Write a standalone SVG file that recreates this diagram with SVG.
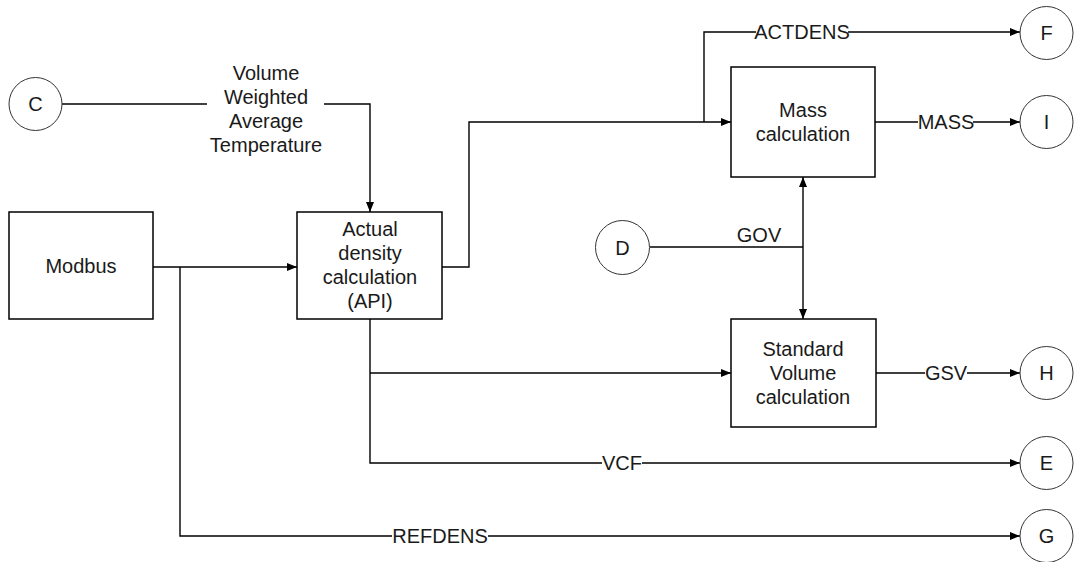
<svg xmlns="http://www.w3.org/2000/svg" width="1077" height="562" viewBox="0 0 1077 562">
<style>
text{font-family:"Liberation Sans",Arial,sans-serif;font-size:20px;fill:#1a1a1a;text-anchor:middle}
.box{fill:#fff;stroke:#000;stroke-width:1.5}
.circ{fill:#fff;stroke:#333;stroke-width:1}
.ln{fill:none;stroke:#000;stroke-width:1.4}
.arr{fill:none;stroke:#000;stroke-width:1.4;marker-end:url(#ah)}
</style>
<defs>
<marker id="ah" viewBox="0 0 10 8" refX="10" refY="4" markerWidth="10" markerHeight="8" markerUnits="userSpaceOnUse" orient="auto">
<path d="M0,0 L10,4 L0,8 Z" fill="#000"/>
</marker>
</defs>
<g id="connectors">
<path class="ln" d="M62,104 H207"/>
<path class="arr" d="M324,104 H370 V212"/>
<path class="arr" d="M153,267 H297"/>
<path class="ln" d="M180,267 V536 H392"/>
<path class="arr" d="M488,536 H1020"/>
<path class="ln" d="M370,319 V463 H602"/>
<path class="arr" d="M642,463 H1020"/>
<path class="arr" d="M370,373 H731"/>
<path class="arr" d="M442,267 H469 V122 H731"/>
<path class="ln" d="M704,122 V32 H756"/>
<path class="arr" d="M848,32 H1020"/>
<path class="ln" d="M875,122 H918"/>
<path class="arr" d="M973,122 H1020"/>
<path class="ln" d="M876,373 H925"/>
<path class="arr" d="M967,373 H1020"/>
<path class="ln" d="M650,247 H803"/>
<path class="arr" d="M803,247 V177"/>
<path class="arr" d="M803,247 V319"/>
<text x="266" y="80">Volume</text>
<text x="266" y="104">Weighted</text>
<text x="266" y="128">Average</text>
<text x="266" y="152">Temperature</text>
<text x="802" y="39">ACTDENS</text>
<text x="946" y="129">MASS</text>
<text x="946" y="380">GSV</text>
<text x="622" y="470">VCF</text>
<text x="440" y="543">REFDENS</text>
<text x="759" y="242">GOV</text>
</g>
<g id="modbus"><rect class="box" x="9" y="212" width="144" height="107"/><text x="81" y="273">Modbus</text></g>
<g id="actual-density"><rect class="box" x="297" y="212" width="145" height="107"/><text x="370" y="236">Actual</text><text x="370" y="260">density</text><text x="370" y="284">calculation</text><text x="370" y="308">(API)</text></g>
<g id="mass"><rect class="box" x="731" y="67" width="144" height="110"/><text x="803" y="117">Mass</text><text x="803" y="141">calculation</text></g>
<g id="standard-volume"><rect class="box" x="731" y="319" width="145" height="108"/><text x="803" y="356">Standard</text><text x="803" y="380">Volume</text><text x="803" y="404">calculation</text></g>
<g id="C"><circle class="circ" cx="35.5" cy="104" r="26.5"/><text x="35.5" y="111">C</text></g>
<g id="D"><circle class="circ" cx="622.5" cy="247.5" r="27"/><text x="622.5" y="254.5">D</text></g>
<g id="F"><circle class="circ" cx="1046.5" cy="33" r="26.5"/><text x="1046.5" y="40">F</text></g>
<g id="I"><circle class="circ" cx="1046.5" cy="122" r="26.5"/><text x="1046.5" y="129">I</text></g>
<g id="H"><circle class="circ" cx="1046.5" cy="373" r="26.5"/><text x="1046.5" y="380">H</text></g>
<g id="E"><circle class="circ" cx="1046.5" cy="463" r="26.5"/><text x="1046.5" y="470">E</text></g>
<g id="G"><circle class="circ" cx="1046.5" cy="536" r="26.5"/><text x="1046.5" y="543">G</text></g>
</svg>
